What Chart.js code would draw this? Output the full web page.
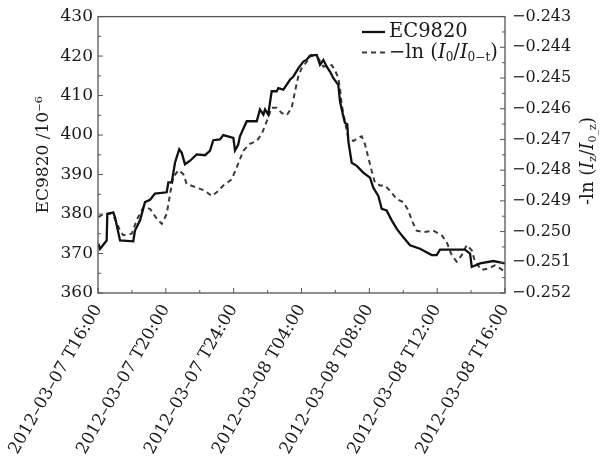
<!DOCTYPE html>
<html>
<head>
<meta charset="utf-8">
<script src="https://cdn.jsdelivr.net/npm/chart.js@4.4.1/dist/chart.umd.min.js"></script>
<style>
  html,body{margin:0;padding:0;background:#fff}
  #wrap{width:606px;height:465px}
</style>
</head>
<body>
<div id="wrap"><canvas id="chart" width="606" height="465"></canvas></div>
<script>
// EC9820 CO2 vs -ln(I0/I0-t), 2012-03-07 16:00 .. 2012-03-08 16:00
// x values are hours since 2012-03-07 16:00

const xTickLabels = [
  '2012–03–07 T16:00', '2012–03–07 T20:00', '2012–03–07 T24:00',
  '2012–03–08 T04:00', '2012–03–08 T08:00', '2012–03–08 T12:00', '2012–03–08 T16:00'
];

// EC9820 (left axis, 10^-6)
const ecHours = [
  0.02, 0.12, 0.51, 0.55, 0.90, 1.00, 1.30, 2.08, 2.18, 2.48, 2.77, 3.07, 3.36, 4.05, 4.15, 4.35,
  4.54, 4.79, 4.94, 5.13, 5.43, 5.82, 6.31, 6.60, 6.80, 7.19, 7.39, 7.98, 8.08, 8.27, 8.37, 8.77,
  9.36, 9.55, 9.75, 9.85, 10.04, 10.24, 10.54, 10.63, 10.93, 11.32, 11.52, 11.81, 12.11, 12.31, 12.50,
  12.90, 13.09, 13.29, 13.49, 13.68, 13.88, 14.17, 14.27, 14.46, 14.56, 14.70, 14.76, 14.96, 15.26,
  15.64, 16.04, 16.23, 16.53, 16.73, 17.02, 17.32, 17.61, 17.91, 18.40, 18.99, 19.68, 19.97, 20.17,
  21.64, 21.94, 22.04, 22.53, 23.31, 24.00
];
const ecValues = [
  372.5, 371.2, 373.3, 380.0, 380.4, 379.2, 373.3, 373.1, 375.8, 378.4, 383.0, 383.6, 385.2, 385.5, 388.0, 388.0,
  393.0, 396.4, 395.5, 392.6, 393.5, 395.1, 394.9, 396.0, 398.7, 398.9, 400.0, 399.3, 396.1, 397.6, 399.7, 403.5,
  403.5, 406.5, 405.2, 406.5, 405.2, 411.1, 411.1, 411.9, 411.5, 414.0, 414.8, 416.9, 418.6, 419.1, 420.1,
  420.3, 417.8, 419.0, 417.3, 416.1, 414.4, 412.7, 408.5, 404.8, 403.1, 402.7, 398.5, 393.0, 392.2,
  390.5, 389.2, 386.7, 384.6, 381.3, 380.9, 378.4, 376.3, 374.6, 372.1, 371.2, 369.6, 369.6, 371.0,
  371.0, 370.0, 366.6, 367.5, 368.1, 367.5
];

// -ln(I0/I0-t) (right axis)
const lnHours = [
  0.02, 0.31, 0.71, 1.00, 1.30, 1.49, 1.99, 2.28, 2.67, 3.07, 3.46, 3.76, 4.05, 4.25, 4.44, 4.74,
  5.03, 5.23, 5.82, 6.31, 6.70, 7.00, 7.39, 7.88, 8.18, 8.57, 8.96, 9.36, 9.65, 9.95, 10.24, 10.54,
  10.83, 11.13, 11.42, 11.62, 11.81, 12.01, 12.31, 12.60, 12.99, 13.29, 13.78, 13.98, 14.17, 14.27,
  14.37, 14.56, 14.76, 15.06, 15.33, 15.55, 15.74, 15.94, 16.14, 16.33, 16.63, 16.92, 17.22, 17.61,
  18.00, 18.30, 18.50, 18.79, 19.18, 19.77, 20.27, 20.56, 20.86, 21.15, 21.45, 21.74, 22.04, 22.23,
  22.63, 23.02, 23.41, 23.71, 24.00
];
const lnValues = [
  -0.24953, -0.24943, -0.24940, -0.24958, -0.24997, -0.25012, -0.25007, -0.24963, -0.24921, -0.24926,
  -0.24958, -0.24975, -0.24943, -0.24877, -0.24823, -0.24800, -0.24813, -0.24845, -0.24857, -0.24867,
  -0.24884, -0.24872, -0.24850, -0.24830, -0.24791, -0.24737, -0.24714, -0.24705, -0.24683, -0.24641,
  -0.24597, -0.24597, -0.24614, -0.24621, -0.24597, -0.24543, -0.24495, -0.24468, -0.24447, -0.24425,
  -0.24436, -0.24463, -0.24458, -0.24474, -0.24501, -0.24533, -0.24587, -0.24641, -0.24695, -0.24705,
  -0.24695, -0.24690, -0.24715, -0.24759, -0.24803, -0.24840, -0.24850, -0.24850, -0.24867, -0.24894,
  -0.24904, -0.24931, -0.24963, -0.24997, -0.25002, -0.24997, -0.25012, -0.25034, -0.25077, -0.25098,
  -0.25077, -0.25044, -0.25061, -0.25098, -0.25125, -0.25120, -0.25110, -0.25120, -0.25131
];

const FONT = '"DejaVu Serif", "Liberation Serif", serif';
const INK = '#1a1a1a';

// draws a run of text pieces (normal / italic / subscript) starting at x
function richWidth(ctx, parts, size){
  let w = 0;
  parts.forEach(p => {
    const s = p.sub ? size * 0.62 : size;
    ctx.font = (p.it ? 'italic ' : '') + s + 'px ' + FONT;
    w += ctx.measureText(p.t).width;
  });
  return w;
}
function drawRich(ctx, parts, x, y, size){
  parts.forEach(p => {
    const s = p.sub ? size * 0.62 : size;
    ctx.font = (p.it ? 'italic ' : '') + s + 'px ' + FONT;
    ctx.fillText(p.t, x, p.sub ? y + size * 0.28 : y);
    x += ctx.measureText(p.t).width;
  });
}

const legendParts = [
  [{t: 'EC9820'}],
  [{t: '−ln ('}, {t: 'I', it: true}, {t: '0', sub: true}, {t: '/'}, {t: 'I', it: true}, {t: '0−t', sub: true}, {t: ')'}]
];
const rightTitleParts = [
  {t: '-ln ('}, {t: 'I', it: true}, {t: 'z', sub: true}, {t: '/'}, {t: 'I', it: true}, {t: '0_z', sub: true}, {t: ')'}
];

const decorPlugin = {
  id: 'decor',
  afterDraw(chart){
    const {ctx, chartArea: a, scales} = chart;
    ctx.save();
    // frame
    ctx.strokeStyle = '#555';
    ctx.lineWidth = 1.3;
    ctx.strokeRect(a.left, a.top, a.right - a.left, a.bottom - a.top);
    // inward ticks
    const tick = (x1, y1, x2, y2) => { ctx.beginPath(); ctx.moveTo(x1, y1); ctx.lineTo(x2, y2); ctx.stroke(); };
    ctx.lineWidth = 1;
    for (let k = 0; k <= 14; k++) {
      const y = scales.y.getPixelForValue(360 + k * 5);
      tick(a.left, y, a.left + (k % 2 === 0 ? 5 : 3), y);
    }
    for (let k = 0; k <= 18; k++) {
      const y = scales.y2.getPixelForValue(-0.252 + k * 0.0005);
      tick(a.right, y, a.right - (k % 2 === 0 ? 5 : 3), y);
    }
    for (let k = 0; k <= 12; k++) {
      const x = scales.x.getPixelForValue(k * 2);
      tick(x, a.bottom, x, a.bottom - (k % 2 === 0 ? 5 : 3));
    }

    // legend
    ctx.fillStyle = INK;
    ctx.textBaseline = 'middle';
    chart.data.datasets.forEach((ds, i) => {
      const y = 32 + i * 20.5;
      ctx.strokeStyle = ds.borderColor;
      ctx.lineWidth = ds.borderWidth;
      ctx.setLineDash(ds.borderDash || []);
      tick(362, y, 385, y);
      ctx.setLineDash([]);
      drawRich(ctx, legendParts[i], 389, y, 19.5);
    });

    // right axis title
    ctx.translate(588, 161);
    ctx.rotate(-Math.PI / 2);
    const w = richWidth(ctx, rightTitleParts, 18);
    drawRich(ctx, rightTitleParts, -w / 2, 0, 18);
    ctx.restore();
  }
};

const tickFont = {family: FONT, size: 17};
const noGrid = {display: false, drawTicks: false};

new Chart(document.getElementById('chart').getContext('2d'), {
  type: 'line',
  data: {
    datasets: [
      {
        label: 'EC9820',
        data: ecHours.map((h, i) => ({x: h, y: ecValues[i]})),
        yAxisID: 'y',
        borderColor: '#111',
        borderWidth: 2.3,
        pointRadius: 0,
        tension: 0
      },
      {
        label: '-ln(I0/I0-t)',
        data: lnHours.map((h, i) => ({x: h, y: lnValues[i]})),
        yAxisID: 'y2',
        borderColor: '#3a3a3a',
        borderWidth: 2,
        borderDash: [5, 4],
        pointRadius: 0,
        tension: 0
      }
    ]
  },
  options: {
    responsive: false,
    animation: false,
    devicePixelRatio: 1,
    layout: {padding: {top: 14, left: 0, right: 0, bottom: 0}},
    plugins: {legend: {display: false}, tooltip: {enabled: false}},
    scales: {
      x: {
        type: 'linear', min: 0, max: 24,
        grid: noGrid, border: {display: false},
        ticks: {
          stepSize: 4, autoSkip: false, minRotation: 60, maxRotation: 60, padding: 8,
          color: INK, font: tickFont,
          callback: v => xTickLabels[v / 4]
        },
        afterFit: s => { s.height = 172; }
      },
      y: {
        position: 'left', min: 360, max: 430,
        grid: noGrid, border: {display: false},
        ticks: {stepSize: 10, padding: 5, color: INK, font: tickFont},
        title: {display: true, text: 'EC9820 /10⁻⁶', color: INK, font: {family: FONT, size: 17}, padding: {top: 33}},
        afterFit: s => { s.width = 98; }
      },
      y2: {
        position: 'right', min: -0.252, max: -0.243,
        grid: noGrid, border: {display: false},
        ticks: {
          stepSize: 0.001, padding: 7, color: INK, font: {family: FONT, size: 16},
          callback: v => v.toFixed(3).replace('-', '−')
        },
        afterFit: s => { s.width = 101; }
      }
    }
  },
  plugins: [decorPlugin]
});
</script>
</body>
</html>
